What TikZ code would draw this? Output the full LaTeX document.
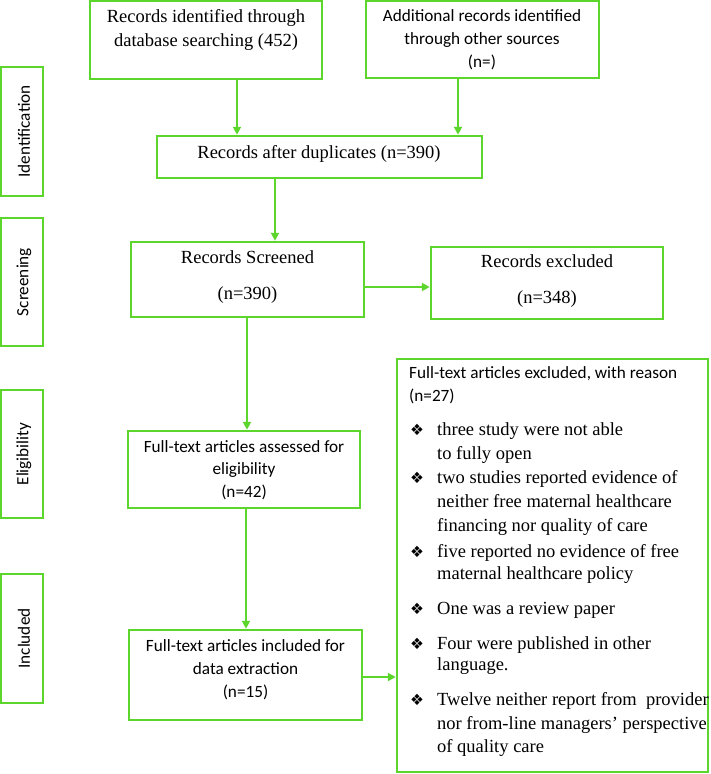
\documentclass[tikz,border=0pt]{standalone}
\usepackage{fontspec}
\setmainfont{Liberation Serif}
\newfontfamily\calfont{Carlito}
\newfontfamily\dvsfont{DejaVu Sans}
\usetikzlibrary{arrows.meta}
\definecolor{pgreen}{RGB}{92,214,44}
\tikzset{
  gbox/.style={draw=pgreen, line width=2.5pt, inner sep=0pt, rectangle},
  arr/.style={draw=pgreen, line width=2.3pt, -{Triangle[length=8pt,width=8pt]}},
  sertxt/.style={font=\fontsize{18.5}{24}\selectfont, align=center, inner sep=0pt},
  santxt/.style={font=\calfont\fontsize{17.2}{23}\selectfont, align=center, inner sep=0pt},
  stage/.style={font=\calfont\fontsize{17.2}{20}\selectfont, rotate=90, inner sep=0pt},
  bul/.style={font=\dvsfont\fontsize{15.5}{15.5}\selectfont, inner sep=0pt, anchor=mid},
  btxt/.style={font=\fontsize{18.5}{24}\selectfont, inner sep=0pt, anchor=mid west},
  htxt/.style={font=\calfont\fontsize{17.2}{23}\selectfont, inner sep=0pt, anchor=mid west}
}
\begin{document}
\begin{tikzpicture}[x=1pt,y=-1pt]
\useasboundingbox (0,0) rectangle (710,774);
% stage labels
\node[gbox, minimum width=42pt, minimum height=129pt] (sid) at (22,131.5) {};
\node[stage] (sidt) at (24,131.5) {Identification};
\node[gbox, minimum width=42pt, minimum height=128pt] (ssc) at (22,282) {};
\node[stage] (ssct) at (24,282) {Screening};
\node[gbox, minimum width=42pt, minimum height=128pt] (sel) at (22,454) {};
\node[stage] (selt) at (24,454) {Eligibility};
\node[gbox, minimum width=42pt, minimum height=129pt] (sin) at (22,638.5) {};
\node[stage] (sint) at (24,638.5) {Included};
% boxes
\node[gbox, minimum width=232pt, minimum height=78pt] (b1) at (206,40) {};
\node[sertxt] (b1t) at (206,30) {Records identified through\\database searching (452)};
\node[gbox, minimum width=233pt, minimum height=77pt] (b2) at (482.5,39.5) {};
\node[santxt] (b2t) at (482,40) {Additional records identified\\through other sources\\(n=)};
\node[gbox, minimum width=325pt, minimum height=42pt] (b3) at (319.5,157) {};
\node[sertxt] (b3t) at (319,154) {Records after duplicates (n=390)};
\node[gbox, minimum width=233pt, minimum height=75pt] (b4) at (247.5,279.5) {};
\node[sertxt, font=\fontsize{18.5}{36}\selectfont] (b4t) at (247.5,277) {Records Screened\\(n=390)};
\node[gbox, minimum width=232pt, minimum height=72pt] (ex) at (547,283) {};
\node[sertxt, font=\fontsize{18.5}{36}\selectfont] (ext) at (547,281) {Records excluded\\(n=348)};
\node[gbox, minimum width=232pt, minimum height=77pt] (el) at (244,469.5) {};
\node[santxt, font=\calfont\fontsize{17.2}{22.5}\selectfont] (elt) at (244,470) {Full-text articles assessed for\\eligibility\\(n=42)};
\node[gbox, minimum width=233pt, minimum height=90pt] (in) at (245.5,675) {};
\node[santxt] (int) at (245.5,670) {Full-text articles included for\\data extraction\\(n=15)};
\node[gbox, minimum width=311pt, minimum height=413pt] (rs) at (552.5,565.5) {};
% reasons text
\node[htxt] (h1) at (409,376) {Full-text articles excluded, with reason};
\node[htxt] (h2) at (409,399) {(n=27)};
\node[bul] (u1) at (417,433) {❖};
\node[btxt] (r1a) at (437,433) {three study were not able};
\node[btxt] (r1b) at (437,457) {to fully open};
\node[bul] (u2) at (417,481) {❖};
\node[btxt] (r2a) at (437,481) {two studies reported evidence of};
\node[btxt] (r2b) at (437,505) {neither free maternal healthcare};
\node[btxt] (r2c) at (437,529) {financing nor quality of care};
\node[bul] (u3) at (417,555) {❖};
\node[btxt] (r3a) at (437,555) {five reported no evidence of free};
\node[btxt] (r3b) at (437,577) {maternal healthcare policy};
\node[bul] (u4) at (417,612) {❖};
\node[btxt] (r4a) at (437,612) {One was a review paper};
\node[bul] (u5) at (417,647) {❖};
\node[btxt] (r5a) at (437,647) {Four were published in other};
\node[btxt] (r5b) at (437,668) {language.};
\node[bul] (u6) at (417,703) {❖};
\node[btxt] (r6a) at (437,703) {Twelve neither report from\ \ provider};
\node[btxt] (r6b) at (437,727) {nor from-line managers’ perspective};
\node[btxt] (r6c) at (437,750) {of quality care};
% connectors
\coordinate (x1) at (237,0);
\coordinate (x2) at (458,0);
\coordinate (x3) at (275,0);
\coordinate (x4) at (247,0);
\coordinate (x5) at (246,0);
\coordinate (y1) at (0,287);
\coordinate (y2) at (0,677);
\draw[arr] (b1.south -| x1) -- (b3.north -| x1);
\draw[arr] (b2.south -| x2) -- (b3.north -| x2);
\draw[arr] (b3.south -| x3) -- (b4.north -| x3);
\draw[arr] (b4.east |- y1) -- (ex.west |- y1);
\draw[arr] (b4.south -| x4) -- (el.north -| x4);
\draw[arr] (el.south -| x5) -- (in.north -| x5);
\draw[arr] (in.east |- y2) -- (rs.west |- y2);
\end{tikzpicture}
\end{document}
